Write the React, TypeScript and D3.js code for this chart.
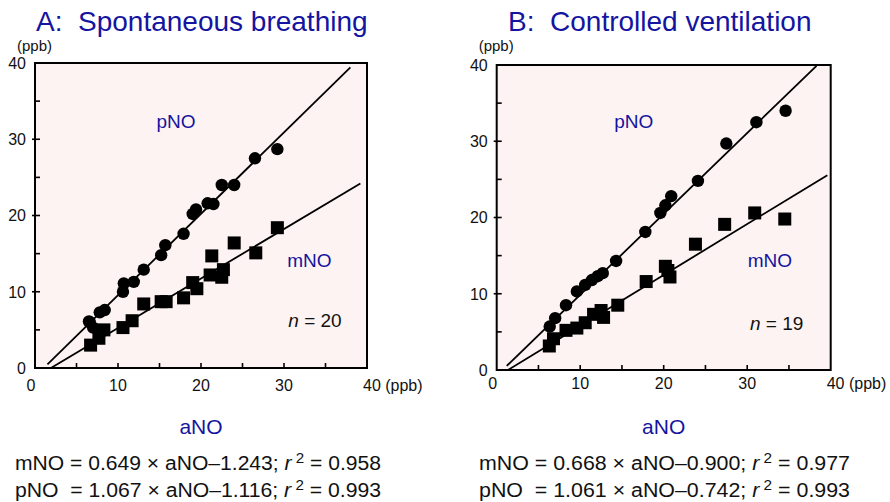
import React from 'react';
import * as d3 from 'd3';

const FONT = '"Liberation Sans", Arial, Helvetica, sans-serif';
const BLUE = '#1414a0';
const BG = '#fdf3f2';

// ---------- Panel A: spontaneous breathing ----------
const aPnoX = [6.5, 7.0, 7.8, 8.4, 10.6, 10.7, 11.9, 13.1, 15.2, 15.7, 17.9, 19.0, 19.4, 20.8, 21.5, 22.5, 24.0, 26.5, 29.2, 6.6];
const aPnoY = [6.1, 5.3, 7.3, 7.6, 10.0, 11.1, 11.3, 12.9, 14.8, 16.1, 17.6, 20.2, 20.8, 21.6, 21.5, 24.0, 24.0, 27.5, 28.7, 6.0];
const aMnoX = [6.7, 7.7, 8.3, 10.6, 11.7, 13.1, 15.2, 15.8, 17.9, 19.0, 19.5, 21.1, 21.3, 22.5, 22.7, 24.0, 26.6, 29.2];
const aMnoY = [3.0, 3.9, 5.0, 5.3, 6.2, 8.4, 8.7, 8.7, 9.2, 11.2, 10.4, 12.2, 14.7, 11.9, 12.9, 16.4, 15.1, 18.4];
const aFit = { pSlope: 1.067, pInt: -1.116, pRange: [1.5, 38.0], mSlope: 0.649, mInt: -1.243, mRange: [1.92, 39.2] };
const aEq = [
  { lhs: 'mNO = 0.649 \u00d7 aNO\u20131.243; ', r2: '0.958' },
  { lhs: 'pNO  = 1.067 \u00d7 aNO\u20131.116; ', r2: '0.993' },
];

// ---------- Panel B: controlled ventilation ----------
const bPnoX = [6.35, 7.0, 8.3, 9.6, 10.6, 11.4, 12.1, 12.7, 14.3, 17.8, 19.6, 20.2, 20.9, 24.1, 27.5, 31.1, 34.6];
const bPnoY = [5.7, 6.8, 8.5, 10.3, 11.15, 11.8, 12.3, 12.7, 14.3, 18.1, 20.6, 21.6, 22.8, 24.8, 29.7, 32.5, 34.0];
const bMnoX = [6.3, 6.8, 8.3, 9.6, 10.6, 11.6, 12.5, 12.8, 14.5, 17.9, 20.2, 20.5, 20.75, 23.8, 27.3, 30.9, 34.5];
const bMnoY = [3.15, 4.1, 5.2, 5.5, 6.2, 7.3, 7.8, 6.9, 8.5, 11.6, 13.6, 13.05, 12.2, 16.5, 19.1, 20.6, 19.8];
const bFit = { pSlope: 1.061, pInt: -0.742, pRange: [1.2, 38.3], mSlope: 0.668, mInt: -0.9, mRange: [1.35, 39.6] };
const bEq = [
  { lhs: 'mNO = 0.668 \u00d7 aNO\u20130.900; ', r2: '0.977' },
  { lhs: 'pNO  = 1.061 \u00d7 aNO\u20130.742; ', r2: '0.993' },
];

const majorTicks = [0, 10, 20, 30];
const minorTicks = [5, 15, 25, 35];
const xTickLabels = ['0', '10', '20', '30'];

type PanelProps = {
  title: string;
  titleX: number;
  x0: number; x1: number; y0: number; y1: number;
  xLabelY: number;
  pX: number[]; pY: number[]; mX: number[]; mY: number[];
  fit: typeof aFit;
  nText: string;
  pnoPos: [number, number];
  mnoPos: [number, number];
  nPos: [number, number];
  eq: { lhs: string; r2: string }[];
  eqX: number; eqW: number;
};

function Panel(p: PanelProps) {
  const x = d3.scaleLinear().domain([0, 40]).range([p.x0, p.x1]);
  const y = d3.scaleLinear().domain([0, 40]).range([p.y0, p.y1]);
  const line = d3.line<number>().x((d) => x(d)).y((d) => y(d));
  const pLine = d3.line<number>().x((d) => x(d)).y((d) => y(p.fit.pSlope * d + p.fit.pInt));
  const mLine = d3.line<number>().x((d) => x(d)).y((d) => y(p.fit.mSlope * d + p.fit.mInt));
  void line;
  const sq = 13;
  return (
    <g fontFamily={FONT}>
      <text x={p.titleX} y={31} fontSize={28} fill={BLUE} style={{ whiteSpace: 'pre' }}>{p.title}</text>
      <text x={p.x0 - 18} y={51} fontSize={15} fill="#111">(ppb)</text>
      <rect x={p.x0} y={p.y1} width={p.x1 - p.x0} height={p.y0 - p.y1} fill={BG} stroke="#000" strokeWidth={2} />
      {/* x ticks */}
      {[...majorTicks.slice(1), ...minorTicks].map((t) => (
        <line key={'xt' + t} x1={x(t)} x2={x(t)} y1={y(0)} y2={y(0) - 5} stroke="#000" strokeWidth={1.6} />
      ))}
      {/* y ticks */}
      {minorTicks.map((t) => (
        <line key={'ym' + t} x1={x(0)} x2={x(0) + 5} y1={y(t)} y2={y(t)} stroke="#000" strokeWidth={1.6} />
      ))}
      {majorTicks.slice(1).map((t) => (
        <line key={'yM' + t} x1={x(0) - 3} x2={x(0) + 5} y1={y(t)} y2={y(t)} stroke="#000" strokeWidth={1.6} />
      ))}
      {/* y tick labels */}
      {[...majorTicks, 40].map((t) => (
        <text key={'yl' + t} x={x(0) - 9} y={y(t)} dy="0.36em" textAnchor="end" fontSize={16} fill="#111">{t}</text>
      ))}
      {/* x tick labels */}
      {majorTicks.map((t, i) => (
        <text key={'xl' + t} x={x(t) - (t === 0 ? 4 : 0)} y={p.xLabelY} textAnchor="middle" fontSize={16} fill="#111">{xTickLabels[i]}</text>
      ))}
      <text x={x(40) - 4} y={p.xLabelY} fontSize={16} fill="#111" style={{ whiteSpace: 'pre' }}>40 (ppb)</text>
      {/* regression lines */}
      <path d={pLine(p.fit.pRange) || ''} stroke="#000" strokeWidth={1.8} fill="none" />
      <path d={mLine(p.fit.mRange) || ''} stroke="#000" strokeWidth={1.8} fill="none" />
      {/* points */}
      {p.mX.map((v, i) => (
        <rect key={'m' + i} x={x(v) - sq / 2} y={y(p.mY[i]) - sq / 2} width={sq} height={sq} fill="#000" />
      ))}
      {p.pX.map((v, i) => (
        <circle key={'p' + i} cx={x(v)} cy={y(p.pY[i])} r={6.2} fill="#000" />
      ))}
      {/* labels */}
      <text x={p.pnoPos[0]} y={p.pnoPos[1]} fontSize={19} fill={BLUE}>pNO</text>
      <text x={p.mnoPos[0]} y={p.mnoPos[1]} fontSize={19} fill={BLUE}>mNO</text>
      <text x={p.nPos[0]} y={p.nPos[1]} fontSize={19} fill="#111">
        <tspan fontStyle="italic">n</tspan> = {p.nText}
      </text>
      <text x={(p.x0 + p.x1) / 2} y={434} textAnchor="middle" fontSize={21} fill={BLUE}>aNO</text>
      {p.eq.map((e, i) => (
        <text key={'eq' + i} x={p.eqX} y={470 + i * 26.7} fontSize={19.5} fill="#111"
          textLength={p.eqW} lengthAdjust="spacingAndGlyphs" style={{ whiteSpace: 'pre' }}>
          {e.lhs}
          <tspan fontStyle="italic">r</tspan>
          <tspan fontSize={14} dy={-7}> 2</tspan>
          <tspan dy={7}> = {e.r2}</tspan>
        </text>
      ))}
    </g>
  );
}

export default function App() {
  return (
    <svg width={890} height={502} style={{ position: 'absolute', left: 0, top: 0, background: '#fff' }}>
      <Panel
        title={'A:  Spontaneous breathing'} titleX={36}
        x0={35} x1={367} y0={368} y1={63} xLabelY={391}
        pX={aPnoX} pY={aPnoY} mX={aMnoX} mY={aMnoY} fit={aFit}
        nText="20" pnoPos={[156.5, 128.3]} mnoPos={[287.3, 266.7]} nPos={[288.3, 327.3]}
        eq={aEq} eqX={15} eqW={366}
      />
      <Panel
        title={'B:  Controlled ventilation'} titleX={508}
        x0={496.7} x1={830.7} y0={370} y1={65} xLabelY={388.5}
        pX={bPnoX} pY={bPnoY} mX={bMnoX} mY={bMnoY} fit={bFit}
        nText="19" pnoPos={[614.3, 128.3]} mnoPos={[747.7, 266.7]} nPos={[750, 330]}
        eq={bEq} eqX={479} eqW={371}
      />
    </svg>
  );
}
